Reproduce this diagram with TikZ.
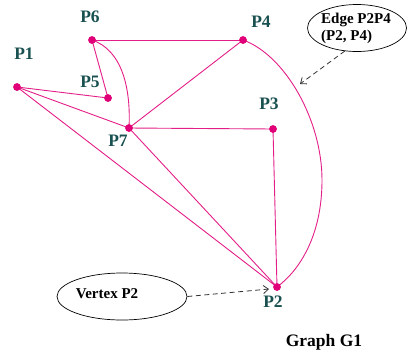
\documentclass[tikz,border=0pt]{standalone}
\usepackage{fontspec}
\setmainfont{Liberation Serif}
\usetikzlibrary{arrows.meta,shapes.geometric}
\definecolor{edgepink}{RGB}{228,30,135}
\definecolor{dotpink}{RGB}{225,0,120}
\definecolor{labteal}{RGB}{25,80,80}
\tikzset{
  vtx/.style={circle,fill=dotpink,inner sep=0pt,minimum size=7.5pt},
  vlab/.style={text=labteal,font=\fontsize{17.5}{17.5}\selectfont\bfseries,inner sep=0pt},
  edg/.style={draw=edgepink,line width=0.9pt},
  note/.style={draw=black,ellipse,line width=0.7pt,font=\fontsize{15}{17}\selectfont\bfseries,inner sep=0pt},
  pointer/.style={draw=black!80,dash pattern=on 5pt off 3.5pt,line width=0.8pt,-{Straight Barb[length=5pt,width=8pt]}}
}
\begin{document}
\begin{tikzpicture}[x=1pt,y=-1pt]
\useasboundingbox (0,0) rectangle (409,354);
% vertices
\node[vtx] (p1) at (17,87) {};
\node[vtx] (p6) at (92,40) {};
\node[vtx] (p5) at (108,98) {};
\node[vtx] (p7) at (129,128) {};
\node[vtx] (p4) at (243,40) {};
\node[vtx] (p3) at (273,129) {};
\node[vtx] (p2) at (277,287) {};
% labels
\node[vlab] (l1) at (24,54) {P1};
\node[vlab] (l6) at (90,17) {P6};
\node[vlab] (l5) at (90,82) {P5};
\node[vlab] (l7) at (118,141) {P7};
\node[vlab] (l4) at (261,22) {P4};
\node[vlab] (l3) at (269,104) {P3};
\node[vlab] (l2) at (273,302) {P2};
% edges
\draw[edg] (p6.center) -- (p4.center);
\draw[edg] (p6.center) -- (p5.center);
\draw[edg] (p6.center) .. controls (122,50) and (131,88) .. (p7.center);
\draw[edg] (p1.center) -- (p5.center);
\draw[edg] (p1.center) -- (p7.center);
\draw[edg] (p1.center) -- (p2.center);
\draw[edg] (p7.center) -- (p2.center);
\draw[edg] (p7.center) -- (p4.center);
\draw[edg] (p7.center) -- (p3.center);
\draw[edg] (p3.center) -- (p2.center);
\coordinate (c42) at (322,180);
\draw[edg] (p4.center) .. controls (285,55) and (322,120) .. (c42) .. controls (322,235) and (300,270) .. (p2.center);
% redraw dots on top
\foreach \n in {p1,p2,p3,p4,p5,p6,p7} \node[vtx] at (\n) {};
% notes
\node[note,minimum width=99pt,minimum height=47pt,align=left] (enote) at (357,28) {\hspace*{-2pt}Edge P2P4\\\hspace*{-2pt}(P2, P4)};
\node[note,minimum width=130pt,minimum height=47pt] (vnote) at (122,296.5) {\hspace*{-30pt}\raisebox{5pt}{Vertex P2}};
\coordinate (etip) at (300,84);
\coordinate (vtip) at (269,289);
\draw[pointer] (enote.-118) -- (etip);
\draw[pointer] (vnote.east) -- (vtip);
% title
\node[font=\fontsize{17.5}{17.5}\selectfont\bfseries,inner sep=0pt] (title) at (324,342) {Graph G1};
\end{tikzpicture}
\end{document}
